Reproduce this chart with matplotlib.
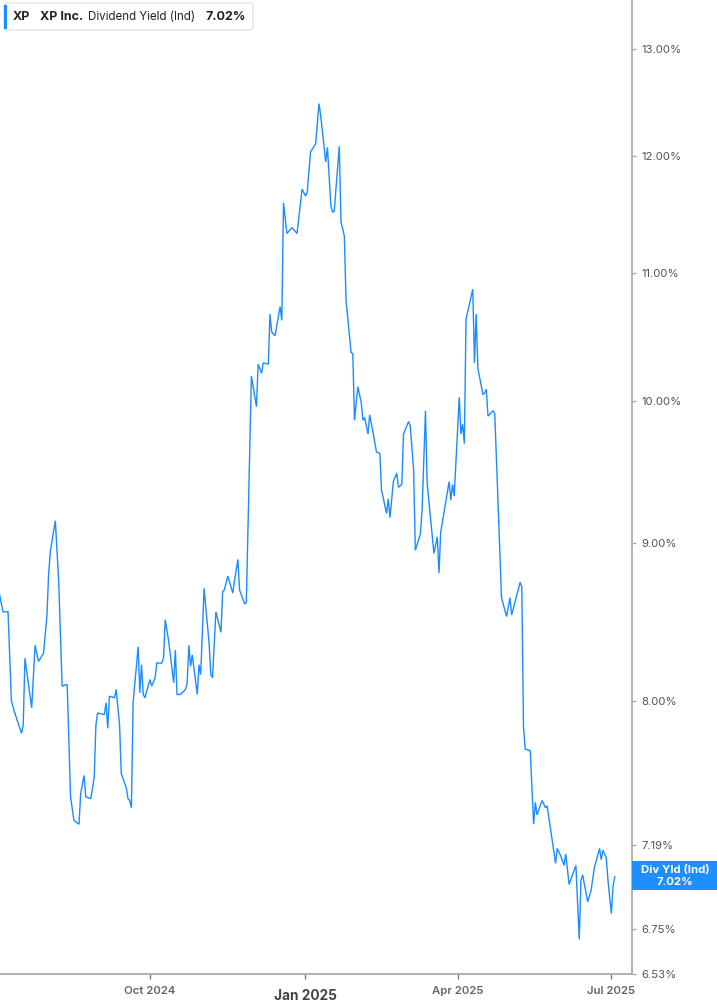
import numpy as np
import pandas as pd
import matplotlib
matplotlib.use("Agg")
import matplotlib.pyplot as plt
import matplotlib.ticker as mticker
from matplotlib.patches import FancyBboxPatch, Rectangle

plt.rcParams["font.family"] = ["Inter", "DejaVu Sans"]

# XP Inc. dividend yield (indicated)
dates = [
    "2024-07-04", "2024-07-06", "2024-07-09", "2024-07-11", "2024-07-13",
    "2024-07-17", "2024-07-18", "2024-07-19", "2024-07-23", "2024-07-25",
    "2024-07-27", "2024-07-30", "2024-08-01", "2024-08-02", "2024-08-03",
    "2024-08-06", "2024-08-08", "2024-08-10", "2024-08-13", "2024-08-15",
    "2024-08-17", "2024-08-20", "2024-08-21", "2024-08-23", "2024-08-24",
    "2024-08-27", "2024-08-29", "2024-08-30", "2024-08-31", "2024-09-04",
    "2024-09-05", "2024-09-06", "2024-09-07", "2024-09-10", "2024-09-11",
    "2024-09-13", "2024-09-14", "2024-09-17", "2024-09-18", "2024-09-19",
    "2024-09-20", "2024-09-21", "2024-09-24", "2024-09-25", "2024-09-26",
    "2024-09-27", "2024-09-28", "2024-10-01", "2024-10-02", "2024-10-04",
    "2024-10-05", "2024-10-08", "2024-10-09", "2024-10-10", "2024-10-12",
    "2024-10-15", "2024-10-16", "2024-10-17", "2024-10-19", "2024-10-22",
    "2024-10-23", "2024-10-24", "2024-10-25", "2024-10-26", "2024-10-29",
    "2024-10-30", "2024-10-31", "2024-11-02", "2024-11-05", "2024-11-06",
    "2024-11-07", "2024-11-09", "2024-11-12", "2024-11-13", "2024-11-14",
    "2024-11-16", "2024-11-19", "2024-11-20", "2024-11-22", "2024-11-23",
    "2024-11-26", "2024-11-27", "2024-11-30", "2024-12-03", "2024-12-04",
    "2024-12-06", "2024-12-07", "2024-12-10", "2024-12-11", "2024-12-12",
    "2024-12-14", "2024-12-17", "2024-12-18", "2024-12-19", "2024-12-21",
    "2024-12-24", "2024-12-27", "2024-12-30", "2025-01-01", "2025-01-02",
    "2025-01-04", "2025-01-07", "2025-01-09", "2025-01-10", "2025-01-13",
    "2025-01-14", "2025-01-16", "2025-01-17", "2025-01-18", "2025-01-21",
    "2025-01-22", "2025-01-24", "2025-01-25", "2025-01-28", "2025-01-29",
    "2025-01-30", "2025-02-01", "2025-02-03", "2025-02-04", "2025-02-05",
    "2025-02-07", "2025-02-08", "2025-02-10", "2025-02-12", "2025-02-14",
    "2025-02-15", "2025-02-18", "2025-02-19", "2025-02-20", "2025-02-22",
    "2025-02-24", "2025-02-25", "2025-02-27", "2025-02-28", "2025-03-03",
    "2025-03-04", "2025-03-06", "2025-03-07", "2025-03-10", "2025-03-11",
    "2025-03-13", "2025-03-14", "2025-03-18", "2025-03-20", "2025-03-21",
    "2025-03-22", "2025-03-27", "2025-03-28", "2025-03-29", "2025-03-30",
    "2025-04-02", "2025-04-03", "2025-04-04", "2025-04-05", "2025-04-06",
    "2025-04-10", "2025-04-11", "2025-04-12", "2025-04-13", "2025-04-16",
    "2025-04-17", "2025-04-18", "2025-04-19", "2025-04-22", "2025-04-23",
    "2025-04-27", "2025-04-30", "2025-05-02", "2025-05-03", "2025-05-08",
    "2025-05-09", "2025-05-10", "2025-05-11", "2025-05-14", "2025-05-16",
    "2025-05-17", "2025-05-18", "2025-05-21", "2025-05-23", "2025-05-24",
    "2025-05-29", "2025-05-30", "2025-06-01", "2025-06-03", "2025-06-04",
    "2025-06-06", "2025-06-10", "2025-06-12", "2025-06-13", "2025-06-14",
    "2025-06-17", "2025-06-19", "2025-06-21", "2025-06-24", "2025-06-25",
    "2025-06-26", "2025-06-28", "2025-06-29", "2025-07-01", "2025-07-02",
    "2025-07-03",
]
yields = [
    8.66, 8.55, 8.55, 8.00, 7.93,
    7.81, 7.86, 8.26, 7.96, 8.34,
    8.24, 8.29, 8.52, 8.79, 8.94,
    9.15, 8.74, 8.09, 8.10, 7.45,
    7.32, 7.30, 7.47, 7.57, 7.45,
    7.44, 7.56, 7.86, 7.93, 7.92,
    7.99, 7.84, 8.03, 8.02, 8.07,
    7.86, 7.58, 7.50, 7.44, 7.43,
    7.39, 7.99, 8.33, 8.05, 8.22,
    8.04, 8.02, 8.13, 8.09, 8.14,
    8.23, 8.23, 8.26, 8.50, 8.37,
    8.11, 8.31, 8.04, 8.04, 8.07,
    8.11, 8.34, 8.21, 8.28, 8.04,
    8.22, 8.16, 8.70, 8.35, 8.16,
    8.14, 8.55, 8.42, 8.68, 8.69,
    8.78, 8.67, 8.75, 8.89, 8.69,
    8.60, 8.61, 10.19, 9.96, 10.28,
    10.21, 10.29, 10.28, 10.67, 10.53,
    10.50, 10.73, 10.62, 11.59, 11.33,
    11.38, 11.33, 11.71, 11.65, 11.68,
    12.04, 12.11, 12.48, 12.37, 11.95,
    12.08, 11.57, 11.51, 11.52, 12.09,
    11.43, 11.31, 10.78, 10.37, 10.36,
    9.86, 10.11, 9.99, 9.86, 9.88,
    9.76, 9.90, 9.77, 9.63, 9.62,
    9.36, 9.20, 9.30, 9.17, 9.42,
    9.48, 9.38, 9.40, 9.76, 9.85,
    9.82, 9.50, 8.95, 9.06, 9.22,
    9.93, 9.41, 8.93, 9.04, 8.80,
    9.07, 9.42, 9.29, 9.40, 9.32,
    10.03, 9.76, 9.83, 9.69, 10.63,
    10.87, 10.29, 10.67, 10.25, 10.05,
    10.06, 10.09, 9.89, 9.93, 9.91,
    8.64, 8.52, 8.64, 8.53, 8.74,
    8.71, 7.85, 7.72, 7.71, 7.30,
    7.42, 7.35, 7.43, 7.39, 7.40,
    7.09, 7.17, 7.13, 7.08, 7.14,
    6.98, 7.08, 6.70, 7.00, 7.03,
    6.89, 6.95, 7.07, 7.17, 7.11,
    7.16, 7.12, 7.00, 6.83, 6.97,
    7.02,
]

ytick_values = [6.53, 6.75, 6.97, 7.19, 8.00, 9.00, 10.00, 11.00, 12.00, 13.00]
xtick_dates = ["2024-10-01", "2025-01-01", "2025-04-01", "2025-07-01"]
xtick_labels = ["Oct 2024", "Jan 2025", "Apr 2025", "Jul 2025"]

ticker_name = "XP"
company = "XP Inc."
metric = "Dividend Yield (Ind)"
last_value = yields[-1]

LINE = "#1a8cff"
AXIS = "#ababab"
W, H = 717, 1005

fig = plt.figure(figsize=(W / 100, H / 100), dpi=100)
ax = fig.add_axes([0, 1 - 974 / H, 632 / W, 974 / H])

x = pd.to_datetime(dates)
ax.plot(x, yields, color=LINE, lw=1.0, solid_joinstyle="miter")

ax.set_yscale("log")
ax.set_ylim(6.53, 13.48)
ax.set_xlim(pd.Timestamp("2024-07-04 06:00"), pd.Timestamp("2025-07-13 05:00"))

# right-hand y axis
ax.yaxis.tick_right()
ax.yaxis.set_major_locator(mticker.FixedLocator(ytick_values))
ax.yaxis.set_minor_locator(mticker.NullLocator())
ax.yaxis.set_major_formatter(mticker.FuncFormatter(lambda v, p: f"{v:.2f}%"))
ax.tick_params(axis="y", length=3, width=1, color=AXIS, pad=4,
               labelsize=8.2, labelcolor="#555555")

# x axis
ax.set_xticks(pd.to_datetime(xtick_dates))
ax.set_xticklabels(xtick_labels)
ax.tick_params(axis="x", length=3.5, width=1, color="#777777", pad=5,
               labelsize=8.2, labelcolor="#666666")
for lbl in ax.get_xticklabels():
    if lbl.get_text() == "Jan 2025":
        lbl.set_fontsize(9.8)
        lbl.set_fontweight("bold")
        lbl.set_color("#444444")
        lbl.set_y(-0.003)
    else:
        lbl.set_fontweight("semibold")

for side in ["left", "top"]:
    ax.spines[side].set_visible(False)
for side in ["right", "bottom"]:
    ax.spines[side].set_color(AXIS)
    ax.spines[side].set_linewidth(1.3)


def fx(px):
    return px / W


def fy(py):
    return 1 - py / H


# legend box, top left
fig.add_artist(FancyBboxPatch((fx(4), fy(30)), fx(249), 27 / H,
                              boxstyle="round,pad=0,rounding_size=0.004",
                              transform=fig.transFigure, fc="white",
                              ec="#e3e3e3", lw=1.0))
fig.add_artist(Rectangle((fx(4), fy(29)), fx(3), 24 / H,
                         transform=fig.transFigure, fc=LINE, ec="none"))
legend_kw = dict(va="center", color="#222222")
fig.text(fx(13), fy(16.5), ticker_name, fontweight="bold", fontsize=9, **legend_kw)
fig.text(fx(40), fy(16.5), company, fontweight="bold", fontsize=9, **legend_kw)
fig.text(fx(88), fy(16.5), metric, fontsize=8.3, **legend_kw)
fig.text(fx(205), fy(16.5), f"{last_value:.2f}%", fontweight="bold",
         fontsize=9, **legend_kw)

# last value badge on the right axis (covers the 6.97% tick label)
fig.add_artist(Rectangle((fx(632), fy(890)), fx(85), 29 / H,
                         transform=fig.transFigure, fc="#1e8fff", ec="none"))
fig.text(fx(675), fy(869.5), "Div Yld (Ind)", ha="center", va="center",
         fontsize=8.2, fontweight="bold", color="white")
fig.text(fx(675), fy(881.5), f"{last_value:.2f}%", ha="center", va="center",
         fontsize=8.2, fontweight="bold", color="white")

fig.savefig("out.png", dpi=100, facecolor="white")
